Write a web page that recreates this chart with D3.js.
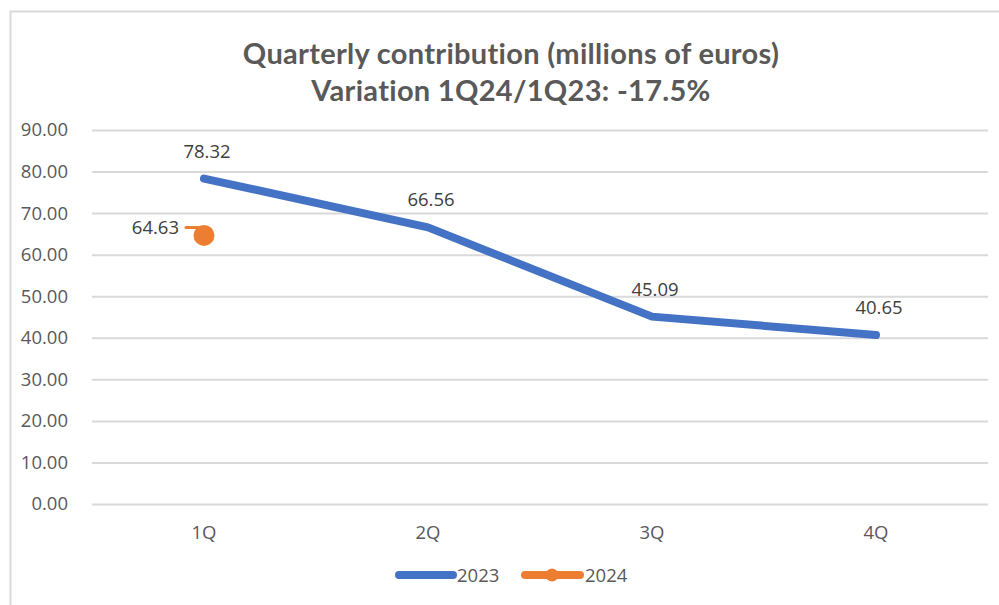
<!DOCTYPE html>
<html><head><meta charset="utf-8">
<script src="https://cdn.jsdelivr.net/npm/d3@7"></script>
<style>html,body{margin:0;padding:0;background:#fff;}svg{display:block;}</style>
</head><body>
<svg id="c" width="999" height="605"></svg>
<script>
const categories = ["1Q","2Q","3Q","4Q"];
const series2023 = [78.32, 66.56, 45.09, 40.65];
const series2024 = [64.63];
const yTicks = [0,10,20,30,40,50,60,70,80,90];
const titleLines = ["Quarterly contribution (millions of euros)", "Variation 1Q24/1Q23: -17.5%"];
const seriesNames = ["2023","2024"];

const svg = d3.select("#c");
const W = 999, H = 605;
const pLeft = 92, pRight = 988, pTop = 130, pBottom = 504;
const blue = "#4472C4", orange = "#ED7D31", grey = "#595959", grid = "#d9d9d9";
const labelFont = "'Open Sans', 'Noto Sans', sans-serif";
const fs = 18.5;

svg.append("rect").attr("width",W).attr("height",H).attr("fill","#fff");
// chart border
svg.append("path").attr("d",`M10.5,${H} V11.5 H${W}`).attr("fill","none").attr("stroke","#d9d9d9").attr("stroke-width",2);

const x = d3.scaleBand().domain(categories).range([pLeft,pRight]);
const y = d3.scaleLinear().domain([0,90]).range([pBottom,pTop]);
const cx = d => x(d) + x.bandwidth()/2;

// gridlines
const yAxis = d3.axisLeft(y).tickValues(yTicks).tickSize(-(pRight-pLeft)).tickPadding(24).tickFormat(d3.format(".2f"));
const gy = svg.append("g").attr("transform",`translate(${pLeft},0)`).call(yAxis);
gy.select(".domain").remove();
gy.selectAll(".tick line").attr("stroke",grid).attr("stroke-width",2);
gy.selectAll(".tick text").attr("fill",grey).attr("font-family",labelFont).attr("font-size",fs);

const xAxis = d3.axisBottom(x).tickSize(0).tickPadding(22);
const gx = svg.append("g").attr("transform",`translate(0,${pBottom})`).call(xAxis);
gx.select(".domain").remove();
gx.selectAll(".tick text").attr("fill",grey).attr("font-family",labelFont).attr("font-size",fs);

// title
const t = svg.append("text").attr("x",511).attr("text-anchor","middle").attr("fill",grey)
  .attr("font-family","Lato, 'Open Sans', sans-serif").attr("font-weight","bold").attr("font-size",29)
  .attr("letter-spacing",0.3);
titleLines.forEach((l,i)=> t.append("tspan").attr("x",511).attr("y",64+i*37).text(l));

// 2023 line
const line = d3.line().x((d,i)=>cx(categories[i])).y(d=>y(d));
svg.append("path").datum(series2023).attr("d",line).attr("fill","none").attr("stroke",blue)
  .attr("stroke-width",8).attr("stroke-linecap","round").attr("stroke-linejoin","round");

svg.selectAll(".l23").data(series2023).enter().append("text")
  .attr("x",(d,i)=>cx(categories[i])+3).attr("y",d=>y(d)-21)
  .attr("text-anchor","middle").attr("fill","#404040").attr("font-family",labelFont).attr("font-size",fs)
  .text(d=>d.toFixed(2));

// 2024 point
series2024.forEach((d,i)=>{
  const px = cx(categories[i]), py = y(d);
  svg.append("path").attr("d",`M${px-18},${py-8} H${px-6}`).attr("stroke",orange).attr("stroke-width",3).attr("stroke-linecap","round");
  svg.append("circle").attr("cx",px).attr("cy",py).attr("r",10.5).attr("fill",orange);
  svg.append("text").attr("x",px-25).attr("y",py-1).attr("text-anchor","end").attr("fill","#404040")
    .attr("font-family",labelFont).attr("font-size",fs).text(d.toFixed(2));
});

// legend
const lg = svg.append("g").attr("transform","translate(0,575)");
lg.append("line").attr("x1",399).attr("x2",453).attr("stroke",blue).attr("stroke-width",8).attr("stroke-linecap","round");
lg.append("text").attr("x",457).attr("y",7).attr("fill",grey).attr("font-family",labelFont).attr("font-size",fs).text(seriesNames[0]);
lg.append("line").attr("x1",525).attr("x2",580).attr("stroke",orange).attr("stroke-width",8).attr("stroke-linecap","round");
lg.append("circle").attr("cx",552).attr("cy",0).attr("r",6.5).attr("fill",orange);
lg.append("text").attr("x",585).attr("y",7).attr("fill",grey).attr("font-family",labelFont).attr("font-size",fs).text(seriesNames[1]);
</script>
</body></html>
